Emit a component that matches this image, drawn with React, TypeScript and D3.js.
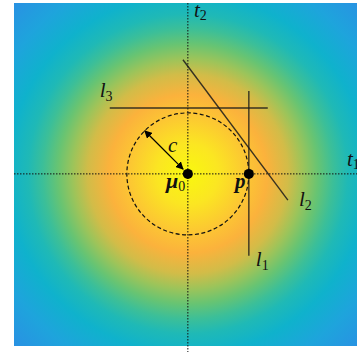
import React from 'react';
import * as d3 from 'd3';

const W = 357;
const H = 352;

// colour field: distance from mu0 (in units of c) -> colour
const fieldRadii = [0, 0.5, 1.0, 1.3, 1.64, 1.89, 2.13, 2.38, 2.62, 2.95, 3.44, 4.1];
const fieldColors = ['#f9f80e', '#fbe622', '#fcc434', '#fbb23c', '#d2bc48', '#9cc45a', '#68c472', '#3cbf98', '#1fb9b6', '#0fb2cc', '#1ea4dc', '#2b8ee4'];

// points
const pointNames = ['mu0', 'p'];
const pointX = [0, 1];
const pointY = [0, 0];

// lines l1, l2, l3
const lineNames = ['1', '2', '3'];
const lineX1 = [1.0, -0.08, -1.28];
const lineY1 = [1.36, 1.87, 1.08];
const lineX2 = [1.0, 1.64, 1.31];
const lineY2 = [-1.34, -0.43, 1.08];

const radiusC = 1;
const arrowAngleDeg = 135;

export default function App() {
  const x = d3.scaleLinear().domain([-2.85, 2.95]).range([14, 14 + 5.8 * 61]);
  const y = d3.scaleLinear().domain([-2.82, 2.8]).range([346, 3]);
  const px = (v: number) => x(v) - x(0);
  const cx = x(0);
  const cy = y(0);
  const Rmax = px(fieldRadii[fieldRadii.length - 1]);
  const rad = (arrowAngleDeg * Math.PI) / 180;
  const ax1 = radiusC * Math.cos(rad);
  const ay1 = radiusC * Math.sin(rad);
  const ax2 = 0.11 * Math.cos(rad);
  const ay2 = 0.11 * Math.sin(rad);

  const lineLabelOffsets = [
    [7, 10],
    [11, 6],
    [-10, -11],
  ];

  const italic = { fontFamily: '"Liberation Serif", serif', fontStyle: 'italic' as const };

  return (
    <svg width={W} height={H} style={{ position: 'absolute', left: 0, top: 0, background: '#fff' }}>
      <defs>
        <radialGradient id="field" gradientUnits="userSpaceOnUse" cx={cx} cy={cy} r={Rmax}>
          {fieldRadii.map((r, i) => (
            <stop key={i} offset={r / fieldRadii[fieldRadii.length - 1]} stopColor={fieldColors[i]} />
          ))}
        </radialGradient>
        <marker id="ah" viewBox="0 0 10 10" refX="9" refY="5" markerWidth="8" markerHeight="8" orient="auto-start-reverse" markerUnits="userSpaceOnUse">
          <path d="M0,0 L10,5 L0,10 z" fill="#000" />
        </marker>
      </defs>
      <rect x={x(-2.85)} y={y(2.8)} width={W - x(-2.85)} height={y(-2.82) - y(2.8)} fill="url(#field)" />

      {/* axes */}
      <line x1={x(-2.85)} x2={W} y1={cy} y2={cy} stroke="#111" strokeWidth={1} strokeDasharray="1.5,1.5" />
      <line x1={cx} x2={cx} y1={y(2.8)} y2={H} stroke="#111" strokeWidth={1} strokeDasharray="1.5,1.5" />

      {/* dashed circle */}
      <circle cx={cx} cy={cy} r={px(radiusC)} fill="none" stroke="#111" strokeWidth={1.2} strokeDasharray="4,2.5" />

      {/* lines */}
      {lineNames.map((n, i) => (
        <g key={n}>
          <line x1={x(lineX1[i])} y1={y(lineY1[i])} x2={x(lineX2[i])} y2={y(lineY2[i])} stroke="#1a1a1a" strokeOpacity={0.85} strokeWidth={1.4} />
          <text
            x={(i === 2 ? x(lineX1[i]) : x(lineX2[i])) + lineLabelOffsets[i][0]}
            y={(i === 2 ? y(lineY1[i]) : y(lineY2[i])) + lineLabelOffsets[i][1]}
            fontSize={21}
            fill="#111"
            style={italic}
          >
            l
            <tspan dy={4} fontSize={14} fontStyle="normal">{n}</tspan>
          </text>
        </g>
      ))}

      {/* radius arrow */}
      <line x1={x(ax1)} y1={y(ay1)} x2={x(ax2)} y2={y(ay2)} stroke="#000" strokeWidth={1.3} markerStart="url(#ah)" markerEnd="url(#ah)" />
      <text x={168} y={152} fontSize={21} fill="#111" style={italic}>c</text>

      {/* points */}
      {pointNames.map((n, i) => (
        <circle key={n} cx={x(pointX[i])} cy={y(pointY[i])} r={5} fill="#000" />
      ))}
      <text x={166} y={188} fontSize={22} fontWeight="bold" fill="#111" style={italic}>
        μ<tspan dy={3} fontSize={14} fontWeight="normal" fontStyle="normal">0</tspan>
      </text>
      <text x={235} y={188} fontSize={21} fontWeight="bold" fill="#111" style={italic}>p</text>

      {/* axis labels */}
      <text x={194} y={17} fontSize={21} fill="#111" style={italic}>
        t<tspan dy={3} fontSize={14} fontStyle="normal">2</tspan>
      </text>
      <text x={347} y={166} fontSize={21} fill="#111" style={italic}>
        t<tspan dy={3} fontSize={14} fontStyle="normal">1</tspan>
      </text>
    </svg>
  );
}
